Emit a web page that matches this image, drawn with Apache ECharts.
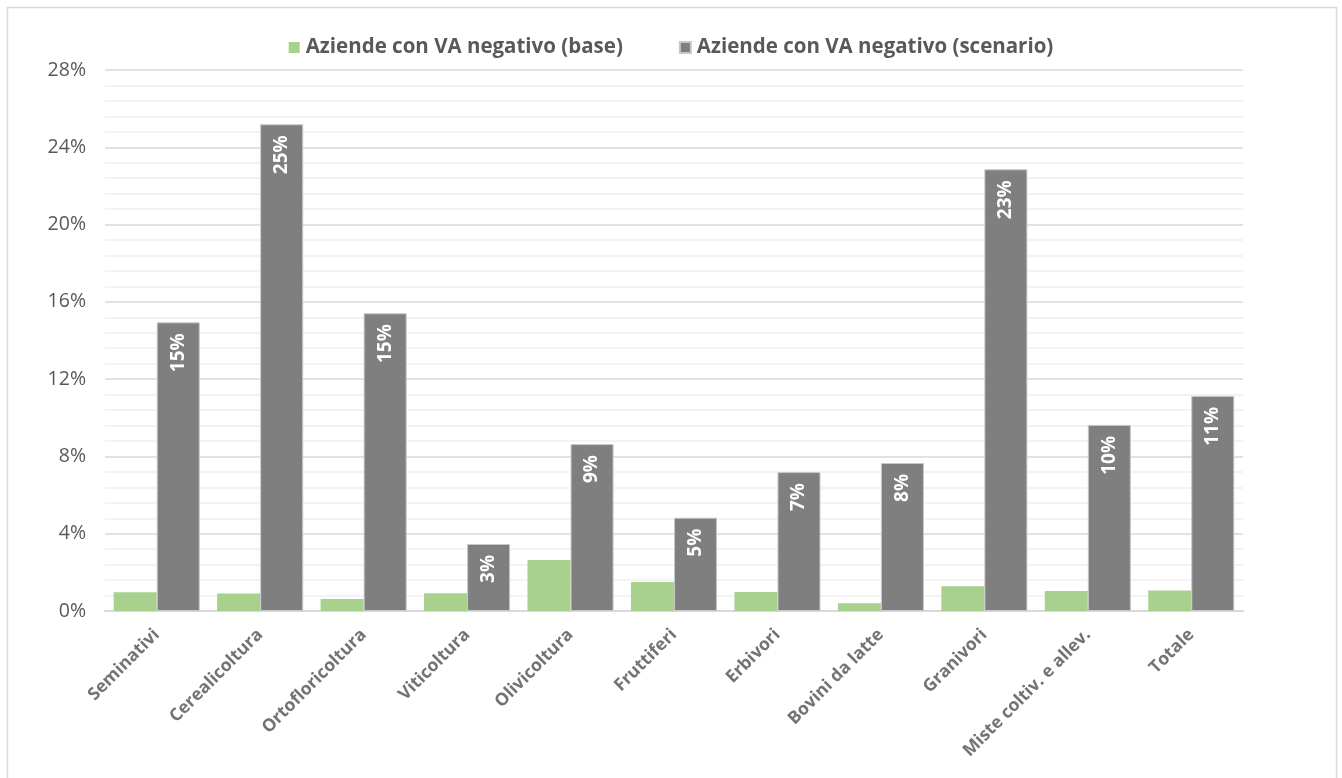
<!DOCTYPE html>
<html>
<head>
<meta charset="utf-8">
<script src="https://cdn.jsdelivr.net/npm/echarts@6/dist/echarts.min.js"></script>
<style>
  html, body { margin: 0; padding: 0; background: #ffffff; }
  #chart { width: 1342px; height: 778px; }
</style>
</head>
<body>
<div id="chart"></div>
<script>
// Orientamenti tecnico-economici
const categories = [
  'Seminativi', 'Cerealicoltura', 'Ortofloricoltura', 'Viticoltura', 'Olivicoltura',
  'Fruttiferi', 'Erbivori', 'Bovini da latte', 'Granivori', 'Miste coltiv. e allev.', 'Totale'
];
// Quota di aziende con valore aggiunto negativo (%)
const baseValues     = [0.97, 0.90, 0.62, 0.92, 2.64, 1.50, 0.98, 0.40, 1.28, 1.03, 1.06];
const scenarioValues = [14.94, 25.19, 15.41, 3.47, 8.64, 4.83, 7.19, 7.66, 22.86, 9.63, 11.13];
const seriesNames = ['Aziende con VA negativo (base)', 'Aziende con VA negativo (scenario)'];
// Scala asse y
const yMin = 0, yMax = 28, yStep = 4;

const chart = echarts.init(document.getElementById('chart'), null, { renderer: 'canvas' });

chart.setOption({
  backgroundColor: '#ffffff',
  animation: false,
  graphic: [{
    type: 'rect',
    silent: true,
    shape: { x: 7.5, y: 7.5, width: 1329, height: 800 },
    style: { fill: 'none', stroke: '#d9d9d9', lineWidth: 1.5 }
  }],
  legend: {
    top: 32,
    left: 'center',
    itemWidth: 11,
    itemHeight: 11,
    itemGap: 56,
    icon: 'rect',
    textStyle: {
      fontFamily: '"Open Sans"',
      fontWeight: 'bold',
      fontSize: 20.5,
      color: '#595959',
      padding: [0, 0, 0, 1]
    },
    data: seriesNames
  },
  grid: { left: 105, right: 99, top: 70, bottom: 167 },
  xAxis: {
    type: 'category',
    data: categories,
    axisLine: { show: true, lineStyle: { color: '#d9d9d9', width: 2 } },
    axisTick: { show: false },
    axisLabel: {
      interval: 0,
      rotate: 45,
      margin: 21,
      fontFamily: '"Open Sans"',
      fontWeight: 'bold',
      fontSize: 17.5,
      color: '#737373'
    }
  },
  yAxis: {
    type: 'value',
    min: yMin,
    max: yMax,
    interval: yStep,
    axisLine: { show: false },
    axisTick: { show: false },
    axisLabel: {
      formatter: '{value}%',
      margin: 19,
      fontFamily: '"Open Sans"',
      fontSize: 19.5,
      color: '#595959'
    },
    splitLine: { show: true, lineStyle: { color: '#d9d9d9', width: 1.5 } },
    minorTick: { show: false, splitNumber: 5 },
    minorSplitLine: { show: true, lineStyle: { color: '#f0f0f0', width: 1.5 } }
  },
  series: [
    {
      name: seriesNames[0],
      type: 'bar',
      data: baseValues,
      barGap: '0%',
      barCategoryGap: '16.8%',
      itemStyle: { color: '#a9d18e' }
    },
    {
      name: seriesNames[1],
      type: 'bar',
      data: scenarioValues,
      barGap: '0%',
      barCategoryGap: '16.8%',
      itemStyle: { color: '#7f7f7f', borderColor: '#c8c8c8', borderWidth: 1 },
      label: {
        show: true,
        position: 'insideTop',
        distance: 11,
        rotate: 90,
        align: 'right',
        verticalAlign: 'middle',
        fontFamily: '"Open Sans"',
        fontWeight: 'bold',
        fontSize: 19,
        color: '#ffffff',
        formatter: p => Math.round(p.value) + '%'
      }
    }
  ]
});
</script>
</body>
</html>
